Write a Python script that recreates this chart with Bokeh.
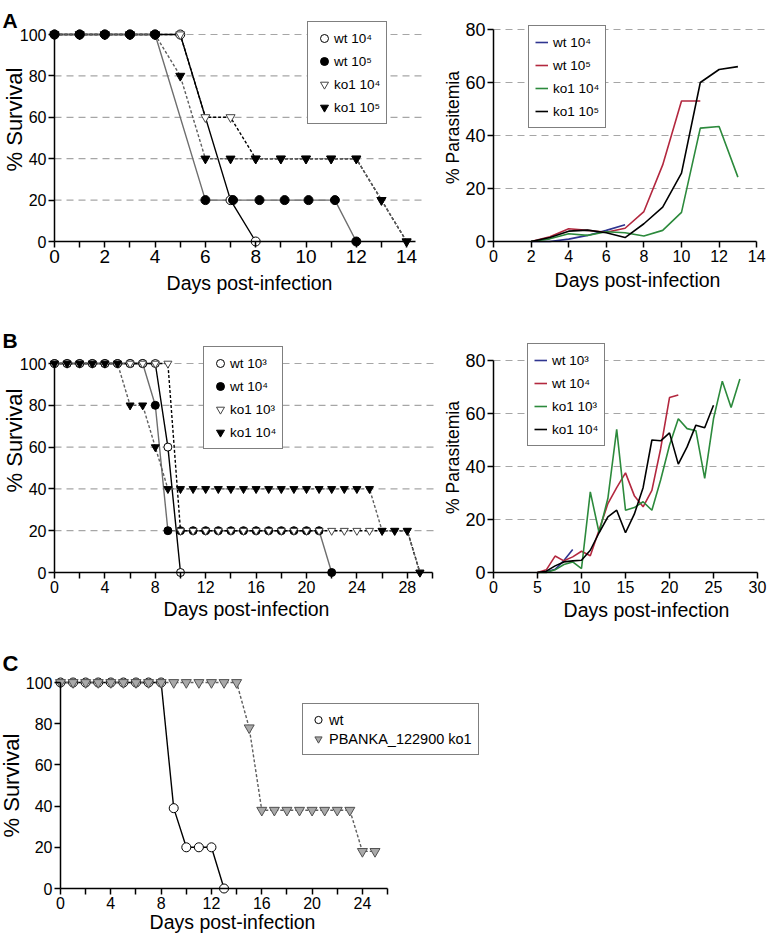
import math
from bokeh.plotting import figure
from bokeh.models import (LinearAxis, FixedTicker, Range1d, Legend, LegendItem, Label)
from bokeh.layouts import column, row
from bokeh.embed import file_html
from bokeh.resources import INLINE

FONT = "Liberation Sans"

# ---------------- data ----------------
# Panel A - survival
A_wt4_day = [0, 1, 2, 3, 4, 5, 7, 8]
A_wt4_surv = [100, 100, 100, 100, 100, 100, 20, 0]
A_wt5_day = [0, 1, 2, 3, 4, 6, 7.1, 8.15, 9.15, 10.1, 11.15, 12]
A_wt5_surv = [100, 100, 100, 100, 100, 20, 20, 20, 20, 20, 20, 0]
A_ko4_day = [0, 1, 2, 3, 4, 5, 6, 7, 8, 9, 10, 11, 12, 13, 14]
A_ko4_surv = [100, 100, 100, 100, 100, 100, 60, 60, 40, 40, 40, 40, 40, 20, 0]
A_ko5_day = [0, 1, 2, 3, 4, 5, 6, 7, 8, 9, 10, 11, 12, 13, 14]
A_ko5_surv = [100, 100, 100, 100, 100, 80, 40, 40, 40, 40, 40, 40, 40, 20, 0]

# Panel A - parasitemia
A_p_wt4_day = [2, 3, 4, 5, 6, 7]
A_p_wt4 = [0, 0, 0.9, 2.3, 4.2, 6.3]
A_p_wt5_day = [2, 3, 4, 5, 6, 7, 8, 9, 10, 11]
A_p_wt5 = [0, 1.8, 4.8, 4.2, 3.5, 5.0, 11.3, 28.9, 53.0, 53.0]
A_p_ko4_day = [2, 3, 4, 5, 6, 7, 8, 9, 10, 11, 12, 13]
A_p_ko4 = [0, 1.0, 2.9, 2.3, 3.7, 3.3, 2.1, 4.2, 11.0, 42.8, 43.4, 24.3]
A_p_ko5_day = [2, 3, 4, 5, 6, 7, 8, 9, 10, 11, 12, 13]
A_p_ko5 = [0, 1.5, 3.9, 4.3, 3.3, 1.5, 6.7, 13.0, 25.8, 60.0, 64.9, 66.0]

# Panel B - survival
B_wt3_day = [0, 1, 2, 3, 4, 5, 6, 7, 8, 9, 10]
B_wt3_surv = [100, 100, 100, 100, 100, 100, 100, 100, 100, 60, 0]
B_wt4_day = [0, 1, 2, 3, 4, 5, 6, 7, 8, 9, 10, 11, 12, 13, 14, 15, 16, 17, 18, 19, 20, 21, 22]
B_wt4_surv = [100, 100, 100, 100, 100, 100, 100, 100, 80, 20, 20, 20, 20, 20, 20, 20, 20, 20,
              20, 20, 20, 20, 0]
B_ko3_day = [0, 1, 2, 3, 4, 5, 6, 7, 8, 9, 10, 11, 12, 13, 14, 15, 16, 17, 18, 19, 20, 21, 22,
             23, 24, 25, 26, 27, 28, 29]
B_ko3_surv = [100, 100, 100, 100, 100, 100, 100, 100, 100, 100, 20, 20, 20, 20, 20, 20, 20, 20,
              20, 20, 20, 20, 20, 20, 20, 20, 20, 20, 20, 0]
B_ko4_day = [0, 1, 2, 3, 4, 5, 6, 7, 8, 9, 10, 11, 12, 13, 14, 15, 16, 17, 18, 19, 20, 21, 22,
             23, 24, 25, 26, 27, 28, 29]
B_ko4_surv = [100, 100, 100, 100, 100, 100, 80, 80, 60, 40, 40, 40, 40, 40, 40, 40, 40, 40,
              40, 40, 40, 40, 40, 40, 40, 40, 20, 20, 20, 0]

# Panel B - parasitemia
B_p_wt3_day = [5, 6, 7, 8, 9]
B_p_wt3 = [0, 0.3, 1.2, 4.5, 8.7]
B_p_wt4_day = [5, 6, 7, 8, 9, 10, 11, 12, 13, 14, 15, 16, 17, 18, 19, 20, 21]
B_p_wt4 = [0, 1.0, 6.2, 4.4, 5.9, 8.0, 6.3, 16.0, 26.0, 32.0, 37.6, 29.0, 24.8, 31.0, 46.8,
           66.0, 67.0]
B_p_ko3_day = [5, 6, 7, 8, 9, 10, 11, 12, 13, 14, 15, 16, 17, 18, 19, 20, 21, 22, 23, 24, 25,
               26, 27, 28]
B_p_ko3 = [0, 0, 1.0, 3.0, 4.0, 1.5, 30.4, 15.0, 28.0, 54.0, 23.5, 24.5, 26.7, 23.5, 35.0,
           48.0, 58.0, 54.3, 53.5, 35.5, 58.0, 72.2, 62.3, 73.0]
B_p_ko4_day = [5, 6, 7, 8, 9, 10, 11, 12, 13, 14, 15, 16, 17, 18, 19, 20, 21, 22, 23, 24, 25]
B_p_ko4 = [0, 0.5, 2.5, 4.0, 4.4, 4.6, 8.4, 15.0, 21.0, 23.5, 15.0, 22.0, 32.0, 50.0, 49.7,
           52.7, 40.9, 47.4, 55.6, 54.6, 63.1]

# Panel C - survival
C_wt_day = [0, 1, 2, 3, 4, 5, 6, 7, 8, 9, 10, 11, 12, 13]
C_wt_surv = [100, 100, 100, 100, 100, 100, 100, 100, 100, 39, 20, 20, 20, 0]
C_ko_day = [0, 1, 2, 3, 4, 5, 6, 7, 8, 9, 10, 11, 12, 13, 14, 15, 16, 17, 18, 19, 20, 21, 22,
            23, 24, 25]
C_ko_surv = [100, 100, 100, 100, 100, 100, 100, 100, 100, 100, 100, 100, 100, 100, 100, 78,
             38, 38, 38, 38, 38, 38, 38, 38, 18, 18]

# ticks
SURV_TICKS = [0, 20, 40, 60, 80, 100]
PAR_TICKS = [0, 20, 40, 60, 80]
A_SURV_XTICKS = [0, 2, 4, 6, 8, 10, 12, 14]
A_SURV_XMINOR = [1, 3, 5, 7, 9, 11, 13]
A_PAR_XTICKS = [0, 2, 4, 6, 8, 10, 12, 14]
B_SURV_XTICKS = [0, 4, 8, 12, 16, 20, 24, 28]
B_SURV_XMINOR = [2, 6, 10, 14, 18, 22, 26, 30]
B_PAR_XTICKS = [0, 5, 10, 15, 20, 25, 30]
C_XTICKS = [0, 4, 8, 12, 16, 20, 24]
C_XMINOR = [2, 6, 10, 14, 18, 22, 26]

LEG_A = ["wt 10\u2074", "wt 10\u2075", "ko1 10\u2074", "ko1 10\u2075"]
LEG_B = ["wt 10\u00b3", "wt 10\u2074", "ko1 10\u00b3", "ko1 10\u2074"]
LEG_C = ["wt", "PBANKA_122900 ko1"]

XLABEL = "Days post-infection"
YSURV = "% Survival"
YPAR = "% Parasitemia"


# ---------------- helpers ----------------
class Panel:
    """A figure whose frame fills its whole canvas; page pixel <-> data mapping given."""

    def __init__(self, fig_x, fig_y, w, h, x0px, xs, y0px, ys):
        self.fig_x, self.fig_y, self.w, self.h = fig_x, fig_y, w, h
        self.x0px, self.xs, self.y0px, self.ys = x0px, xs, y0px, ys
        xr = Range1d(self.dx(fig_x), self.dx(fig_x + w))
        yr = Range1d(self.dy(fig_y + h), self.dy(fig_y))
        p = figure(width=w, height=h, x_range=xr, y_range=yr,
                   x_axis_type=None, y_axis_type=None,
                   output_backend="svg", toolbar_location=None,
                   min_border_left=0, min_border_right=0,
                   min_border_top=0, min_border_bottom=0)
        p.outline_line_color = None
        p.background_fill_color = "white"
        p.border_fill_color = "white"
        self.p = p

    def dx(self, px):
        return (px - self.x0px) / self.xs

    def dy(self, py):
        return (self.y0px - py) / self.ys

    def axes(self, xticks, xminor, xbounds, xfs, yticks, ybounds, yfs):
        xa = LinearAxis(ticker=FixedTicker(ticks=xticks, minor_ticks=xminor),
                        fixed_location=0, bounds=xbounds)
        ya = LinearAxis(ticker=FixedTicker(ticks=yticks), fixed_location=0, bounds=ybounds)
        for ax, fs in ((xa, xfs), (ya, yfs)):
            ax.axis_line_width = 1.5
            ax.axis_line_color = "black"
            ax.major_tick_line_width = 1.5
            ax.minor_tick_line_width = 1.5
            ax.major_tick_out = 6
            ax.major_tick_in = 0
            ax.minor_tick_out = 6
            ax.minor_tick_in = 0
            ax.major_label_text_font = FONT
            ax.major_label_text_font_size = fs
            ax.major_label_text_color = "black"
            ax.major_label_standoff = 2
        self.p.add_layout(xa, "below")
        self.p.add_layout(ya, "left")

    def grid(self, levels, end_px):
        xe = self.dx(end_px)
        self.p.segment(x0=[0] * len(levels), y0=levels, x1=[xe] * len(levels), y1=levels,
                       line_color="#a6a6a6", line_dash="7 5", line_width=1.2)

    def label(self, text, px, py, size, angle=0.0, bold=False, align="center",
              baseline="middle"):
        self.p.add_layout(Label(x=self.dx(px), y=self.dy(py), text=text, text_font=FONT,
                                text_font_size=size, angle=angle, text_align=align,
                                text_baseline=baseline, text_color="black",
                                text_font_style="bold" if bold else "normal"))

    def legend(self, items, box_left, box_top, fs, gw, gh, spacing, padding, standoff):
        n = len(items)
        height = 2 * padding + n * gh + (n - 1) * spacing
        loc = (box_left - self.fig_x, (self.fig_y + self.h) - (box_top + height))
        leg = Legend(items=items, location=loc, glyph_width=gw, glyph_height=gh,
                     label_height=gh, label_width=10, spacing=spacing, padding=padding,
                     label_standoff=standoff, margin=0,
                     border_line_color="black", border_line_width=1.2,
                     background_fill_color="white", background_fill_alpha=1.0,
                     label_text_font=FONT, label_text_font_size=fs,
                     label_text_color="black")
        self.p.add_layout(leg)


OPEN_C = dict(marker="circle", fill_color="white", line_color="black", line_width=1)
FILL_C = dict(marker="circle", fill_color="black", line_color="black", line_width=1)
OPEN_T = dict(marker="inverted_triangle", fill_color="white", line_color="#444444", line_width=1)
FILL_T = dict(marker="inverted_triangle", fill_color="black", line_color="black", line_width=1)

SOLID_BLACK = dict(line_color="black", line_width=1.4)
SOLID_GREY = dict(line_color="#6e6e6e", line_width=1.4)
DASH_BLACK = dict(line_color="black", line_width=1.4, line_dash="3 2")
DASH_GREY = dict(line_color="#5e5e5e", line_width=1.4, line_dash="3 2")

BLUE = "#2f3590"
RED = "#b3283f"
GREEN = "#2c8a3c"

MS = 9

# ---------------- Panel A left ----------------
al = Panel(0, 0, 438, 312, 54, 25.15, 241, 2.07)
al.grid(SURV_TICKS[1:], 425)
al.axes(A_SURV_XTICKS, A_SURV_XMINOR, (0, 14.35), "19px", SURV_TICKS, (0, 100), "16px")
p = al.p
p.line(A_wt4_day, A_wt4_surv, **SOLID_BLACK)
p.line(A_wt5_day, A_wt5_surv, **SOLID_GREY)
p.line(A_ko4_day, A_ko4_surv, **DASH_BLACK)
p.line(A_ko5_day, A_ko5_surv, **DASH_GREY)
r_a1 = p.scatter(A_wt4_day, A_wt4_surv, size=MS, **OPEN_C)
r_a3 = p.scatter(A_ko4_day, A_ko4_surv, size=MS, **OPEN_T)
r_a2 = p.scatter(A_wt5_day, A_wt5_surv, size=MS, **FILL_C)
r_a4 = p.scatter(A_ko5_day, A_ko5_surv, size=MS, **FILL_T)
al.legend([LegendItem(label=LEG_A[0], renderers=[r_a1]),
           LegendItem(label=LEG_A[1], renderers=[r_a2]),
           LegendItem(label=LEG_A[2], renderers=[r_a3]),
           LegendItem(label=LEG_A[3], renderers=[r_a4])],
          307, 23, "13.5px", 20, 20, 3, 6, 0)
al.label("A", 2, 20, "21px", bold=True, align="left", baseline="alphabetic")
al.label(YSURV, 14, 119, "22px", angle=math.pi / 2)
al.label(XLABEL, 249, 282, "19.5px")

# ---------------- Panel A right ----------------
ar = Panel(438, 0, 329, 312, 493, 18.8, 241, 2.65)
ar.grid(PAR_TICKS[1:], 767)
ar.axes(A_PAR_XTICKS, [], (0, 14), "16px", PAR_TICKS, (0, 80), "18px")
p = ar.p
r_b1 = p.line(A_p_wt4_day, A_p_wt4, line_color=BLUE, line_width=1.6)
r_b2 = p.line(A_p_wt5_day, A_p_wt5, line_color=RED, line_width=1.6)
r_b3 = p.line(A_p_ko4_day, A_p_ko4, line_color=GREEN, line_width=1.6)
r_b4 = p.line(A_p_ko5_day, A_p_ko5, line_color="black", line_width=1.6)
ar.legend([LegendItem(label=LEG_A[0], renderers=[r_b1]),
           LegendItem(label=LEG_A[1], renderers=[r_b2]),
           LegendItem(label=LEG_A[2], renderers=[r_b3]),
           LegendItem(label=LEG_A[3], renderers=[r_b4])],
          528, 27, "13.5px", 13, 20, 3, 6, 5)
ar.label(YPAR, 452, 127, "17.5px", angle=math.pi / 2)
ar.label(XLABEL, 637, 279, "19.5px")

# ---------------- Panel B left ----------------
bl = Panel(0, 312, 438, 313, 54, 12.6, 572, 2.09)
bl.grid(SURV_TICKS[1:], 438)
bl.axes(B_SURV_XTICKS, B_SURV_XMINOR, (0, 30), "16px", SURV_TICKS, (0, 100), "16px")
p = bl.p
p.line(B_wt3_day, B_wt3_surv, **SOLID_BLACK)
p.line(B_wt4_day, B_wt4_surv, **SOLID_GREY)
p.line(B_ko3_day, B_ko3_surv, **DASH_BLACK)
p.line(B_ko4_day, B_ko4_surv, **DASH_GREY)
r_c2 = p.scatter(B_wt4_day, B_wt4_surv, size=MS - 1, **FILL_C)
r_c1 = p.scatter(B_wt3_day, B_wt3_surv, size=MS - 1, **OPEN_C)
r_c3 = p.scatter(B_ko3_day, B_ko3_surv, size=MS - 1, **OPEN_T)
r_c4 = p.scatter(B_ko4_day, B_ko4_surv, size=MS - 1, **FILL_T)
bl.legend([LegendItem(label=LEG_B[0], renderers=[r_c1]),
           LegendItem(label=LEG_B[1], renderers=[r_c2]),
           LegendItem(label=LEG_B[2], renderers=[r_c3]),
           LegendItem(label=LEG_B[3], renderers=[r_c4])],
          203, 348, "13.5px", 20, 20, 3, 6, 0)
bl.label("B", 2, 340, "21px", bold=True, align="left", baseline="alphabetic")
bl.label(YSURV, 14, 440, "22px", angle=math.pi / 2)
bl.label(XLABEL, 246, 608, "19.5px")

# ---------------- Panel B right ----------------
br = Panel(438, 312, 329, 313, 493, 8.8, 572, 2.65)
br.grid(PAR_TICKS[1:], 767)
br.axes(B_PAR_XTICKS, [], (0, 30), "16px", PAR_TICKS, (0, 80), "18px")
p = br.p
r_d1 = p.line(B_p_wt3_day, B_p_wt3, line_color=BLUE, line_width=1.6)
r_d2 = p.line(B_p_wt4_day, B_p_wt4, line_color=RED, line_width=1.6)
r_d3 = p.line(B_p_ko3_day, B_p_ko3, line_color=GREEN, line_width=1.6)
r_d4 = p.line(B_p_ko4_day, B_p_ko4, line_color="black", line_width=1.6)
br.legend([LegendItem(label=LEG_B[0], renderers=[r_d1]),
           LegendItem(label=LEG_B[1], renderers=[r_d2]),
           LegendItem(label=LEG_B[2], renderers=[r_d3]),
           LegendItem(label=LEG_B[3], renderers=[r_d4])],
          527, 345, "13.5px", 13, 20, 3, 6, 5)
br.label(YPAR, 452, 457, "17.5px", angle=math.pi / 2)
br.label(XLABEL, 646, 609, "19.5px")

# ---------------- Panel C ----------------
cp = Panel(0, 625, 767, 315, 60, 12.58, 888, 2.06)
cp.axes(C_XTICKS, C_XMINOR, (0, 26), "16px", SURV_TICKS, (0, 100), "16px")
p = cp.p
p.line(C_wt_day, C_wt_surv, line_color="black", line_width=1.4)
p.line(C_ko_day, C_ko_surv, line_color="#5e5e5e", line_width=1.4, line_dash="3 2")
r_e1 = p.scatter(C_wt_day, C_wt_surv, size=MS, **OPEN_C)
r_e2 = p.scatter(C_ko_day, C_ko_surv, size=MS + 1, marker="inverted_triangle",
                 fill_color="#a9a9a9", line_color="#505050", line_width=1)
cp.legend([LegendItem(label=LEG_C[0], renderers=[r_e1]),
           LegendItem(label=LEG_C[1], renderers=[r_e2])],
          302, 705, "14.5px", 18, 19, 0, 6, 2)
cp.label("C", 2, 663, "22px", bold=True, align="left", baseline="alphabetic")
cp.label(YSURV, 11, 785, "22px", angle=math.pi / 2)
cp.label(XLABEL, 232, 921, "19.5px")

layout = column(row(al.p, ar.p), row(bl.p, br.p), cp.p)
open("out.html", "w").write(file_html(layout, INLINE))
